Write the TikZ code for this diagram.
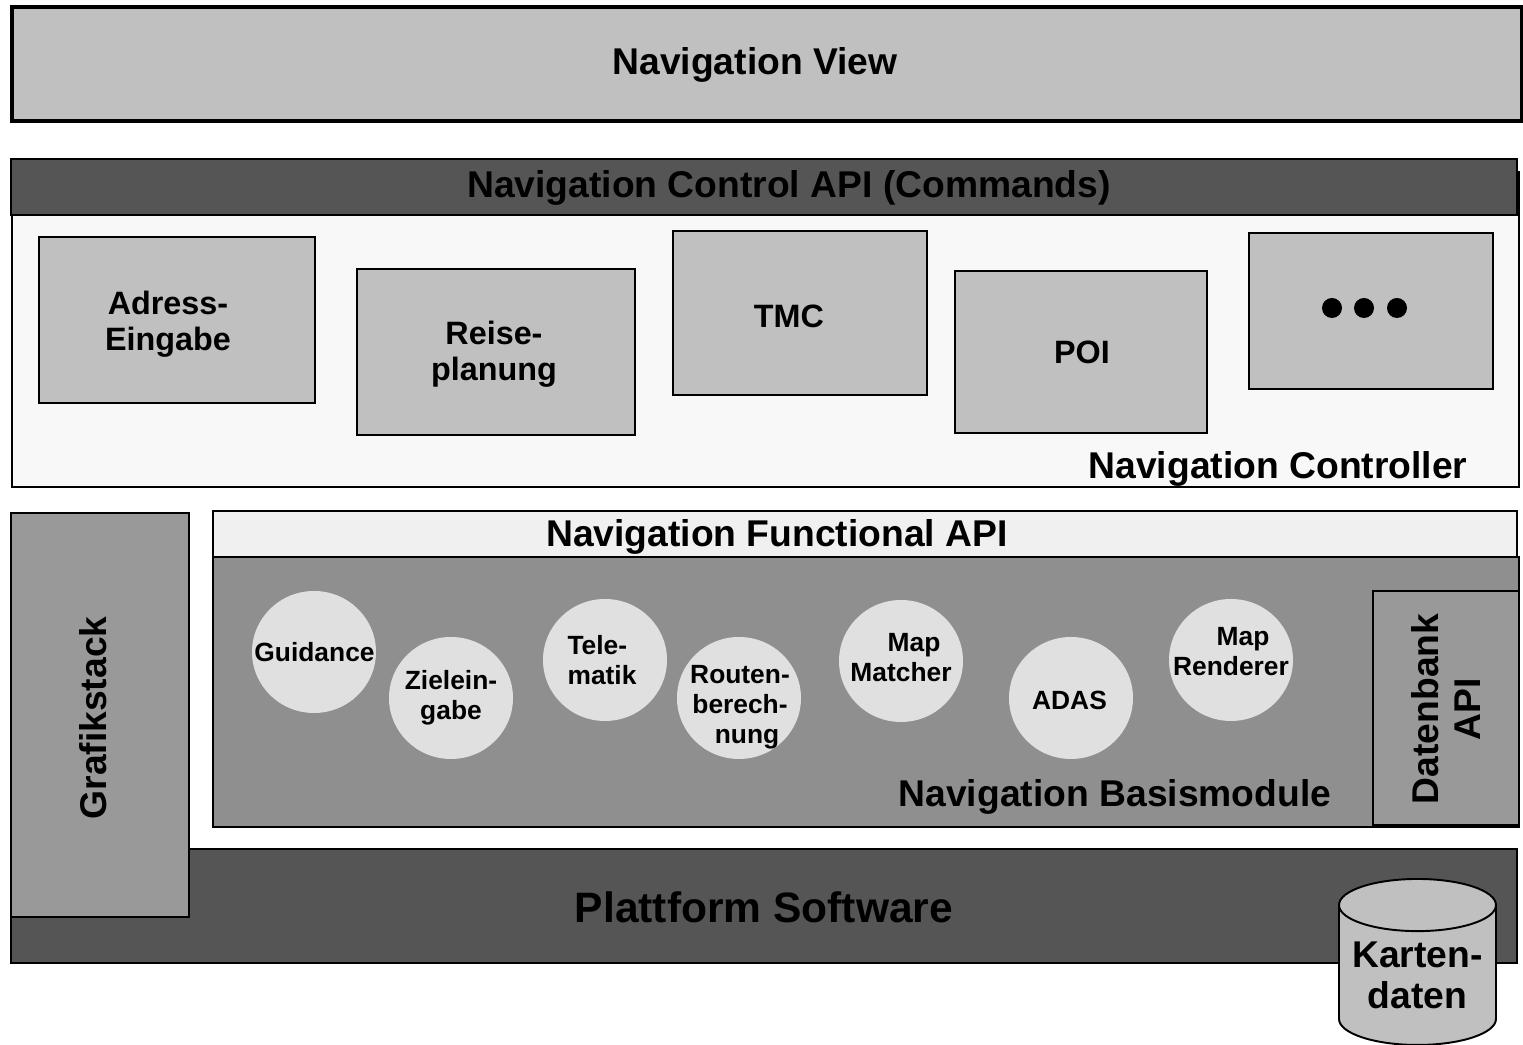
\documentclass[tikz,border=0pt]{standalone}
\usepackage{fontspec}
\setmainfont{Liberation Sans}
\usepackage{tikz}
\usetikzlibrary{
  positioning,
  shapes.geometric
}
\definecolor{viewgray}{HTML}{C0C0C0}
\definecolor{darkgray}{HTML}{555555}
\definecolor{ctrlwhite}{HTML}{F8F8F8}
\definecolor{apiwhite}{HTML}{F0F0F0}
\definecolor{basegray}{HTML}{8F8F8F}
\definecolor{sidegray}{HTML}{999999}
\definecolor{modgray}{HTML}{E0E0E0}

\begin{document}
\begin{tikzpicture}[
  layer/.style={draw, line width=0.55pt, inner sep=0pt},
  ctrlbox/.style={layer, fill=viewgray},
  modcircle/.style={draw=none, ellipse, fill=modgray, minimum width=1.24cm, minimum height=1.22cm, inner sep=0pt},
  lbl/.style={inner sep=0pt, font=\bfseries\fontsize{10.6pt}{10.2pt}\selectfont, align=center},
  boxlbl/.style={lbl, font=\bfseries\fontsize{9.2pt}{10.2pt}\selectfont},
  widelbl/.style={lbl, font=\bfseries\fontsize{10.6pt}{11.7pt}\selectfont},
  modlbl/.style={inner sep=0pt, font=\bfseries\fontsize{7.5pt}{8.6pt}\selectfont, align=center},
  dot/.style={circle, fill=black, minimum size=0.2cm, inner sep=0pt},
]
  \useasboundingbox (0,0) rectangle (15.23,10.45);

  % View
  \node[layer, fill=viewgray, line width=1pt, minimum width=15.10cm, minimum height=1.14cm] (view) at (7.67, 9.81) {};
  \node[lbl] (viewlbl) at (7.55, 9.80) {Navigation View};

  % Controller
  \node[layer, fill=ctrlwhite, minimum width=15.07cm, minimum height=3.15cm] (ctrl) at (7.655, 7.155) {};
  \node[layer, fill=darkgray, minimum width=15.06cm, minimum height=0.56cm] (ctrlapi) at (7.64, 8.58) {};
  \node[lbl] (ctrlapilbl) at (7.89, 8.57) {Navigation Control API (Commands)};
  \node[lbl] (ctrllbl) at (12.78, 5.76) {Navigation Controller};

  \node[ctrlbox, minimum width=2.76cm, minimum height=1.66cm] (adress) at (1.77, 7.25) {};
  \node[ctrlbox, minimum width=2.78cm, minimum height=1.66cm] (reise) at (4.96, 6.93) {};
  \node[ctrlbox, minimum width=2.54cm, minimum height=1.64cm] (tmc) at (8.00, 7.32) {};
  \node[ctrlbox, minimum width=2.52cm, minimum height=1.62cm] (poi) at (10.81, 6.93) {};
  \node[ctrlbox, minimum width=2.44cm, minimum height=1.56cm] (more) at (13.71, 7.34) {};
  \node[boxlbl] (adresslbl) at (1.68, 7.21) {Adress-\\Eingabe};
  \node[boxlbl] (reiselbl) at (4.94, 6.91) {Reise-\\planung};
  \node[boxlbl] (tmclbl) at (7.89, 7.29) {TMC};
  \node[boxlbl] (poilbl) at (10.82, 6.93) {POI};
  \node[dot] (dota) at (13.32, 7.37) {};
  \node[dot] (dotb) at (13.64, 7.37) {};
  \node[dot] (dotc) at (13.97, 7.37) {};

  % Basismodule
  \node[layer, fill=apiwhite, minimum width=13.04cm, minimum height=0.46cm] (funcapi) at (8.65, 5.11) {};
  \node[lbl] (funcapilbl) at (7.77, 5.08) {Navigation Functional API};
  \node[layer, fill=basegray, minimum width=13.06cm, minimum height=2.70cm] (base) at (8.66, 3.53) {};
  \node[lbl] (baselbl) at (11.15, 2.48) {Navigation Basismodule};
  \node[layer, fill=sidegray, minimum width=1.46cm, minimum height=2.34cm] (datenbank) at (14.46, 3.37) {};
  \node[widelbl, rotate=90] (datenbanklbl) at (14.46, 3.36) {Datenbank\\API};

  \node[modcircle] (guidance) at (3.14, 3.93) {};
  \node[modcircle] (ziel) at (4.51, 3.47) {};
  \node[modcircle] (tele) at (6.05, 3.85) {};
  \node[modcircle] (routen) at (7.39, 3.47) {};
  \node[modcircle] (matcher) at (9.01, 3.84) {};
  \node[modcircle] (adas) at (10.71, 3.47) {};
  \node[modcircle] (renderer) at (12.31, 3.85) {};
  \node[modlbl] (guidancelbl) at (3.145, 3.93) {Guidance};
  \node[modlbl] (ziellbl) at (4.51, 3.47) {Zielein-\\gabe};
  \node[modlbl, align=left] (telelbl) at (6.02, 3.85) {Tele-\\matik};
  \node[modlbl] (routenlbl) at (7.40, 3.38) {Routen-\\berech-\\\hspace*{0.14cm}nung};
  \node[modlbl] (matcherlbl) at (9.01, 3.875) {\hspace*{0.26cm}Map\\Matcher};
  \node[modlbl] (rendererlbl) at (12.31, 3.935) {\hspace*{0.24cm}Map\\Renderer};
  \node[modlbl] (adaslbl) at (10.695, 3.45) {ADAS};

  % Plattform
  \node[layer, fill=darkgray, minimum width=15.06cm, minimum height=1.14cm] (platform) at (7.64, 1.39) {};
  \node[lbl, font=\bfseries\fontsize{12.1pt}{14pt}\selectfont] (platformlbl) at (7.64, 1.38) {Plattform Software};
  \node[layer, fill=sidegray, minimum width=1.78cm, minimum height=4.04cm] (grafik) at (1.00, 3.30) {};
  \node[lbl, rotate=90] (grafiklbl) at (0.93, 3.27) {Grafikstack};
  \node[cylinder, draw, line width=0.55pt, shape border rotate=90, aspect=0.4, fill=viewgray,
        minimum width=1.57cm, minimum height=1.66cm, inner sep=0pt, widelbl] (karten) at (14.175, 0.695) {Karten-\\daten};
\end{tikzpicture}
\end{document}
